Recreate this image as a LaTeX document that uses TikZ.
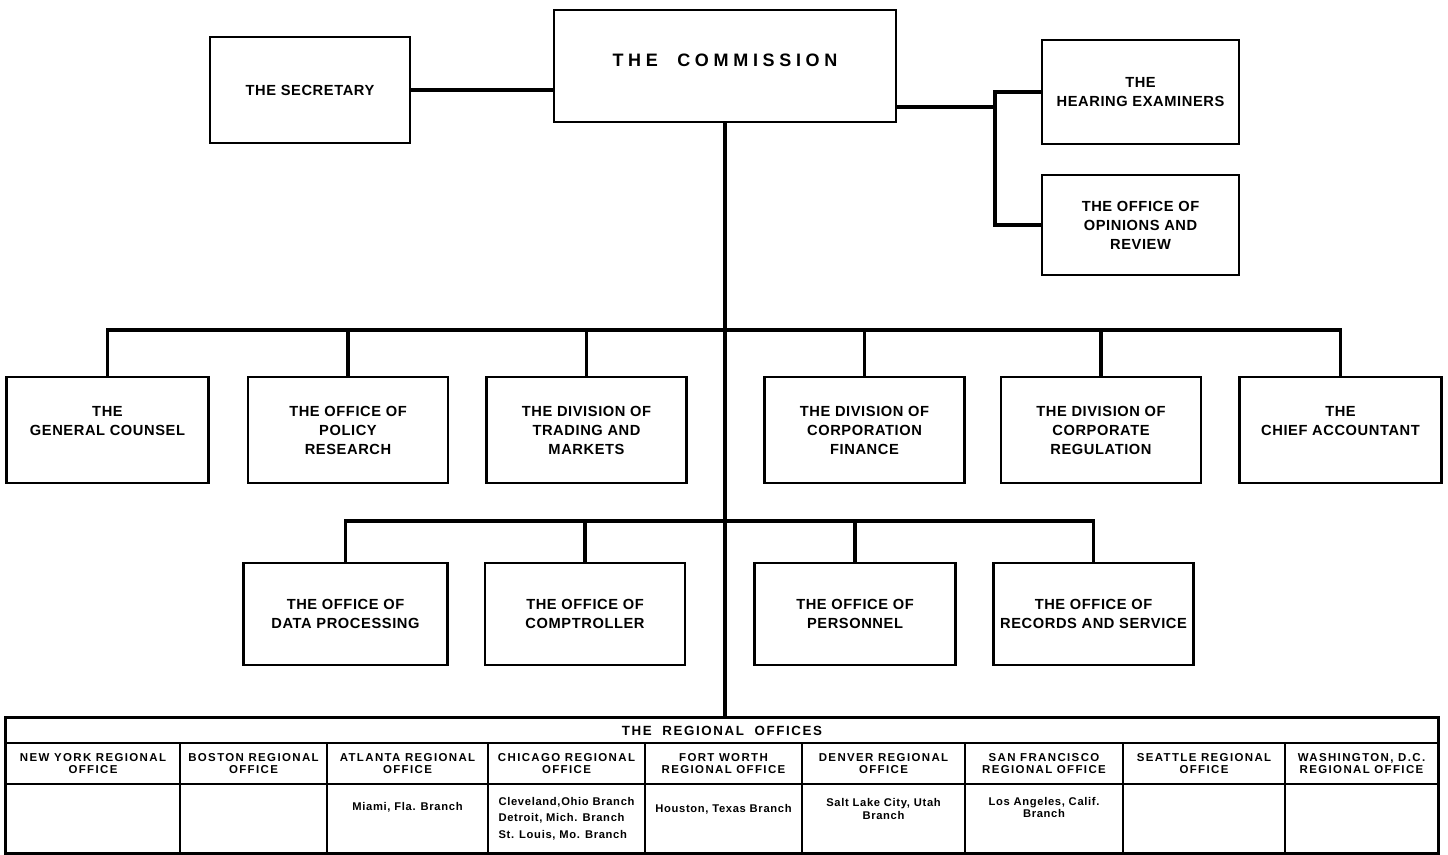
\documentclass[tikz,border=0pt]{standalone}
\usepackage{fontspec}
\usepackage{tikz}
\newfontfamily\boxfont[LetterSpace=4]{Liberation Sans}
\newfontfamily\widefont[LetterSpace=26]{Liberation Sans}
\newfontfamily\headfont[LetterSpace=12]{Liberation Sans}
\newfontfamily\cellfont[LetterSpace=6]{Liberation Sans}

\tikzset{
	unit/.style={draw, line width=2.2pt, align=center, inner sep=1pt, minimum width=150pt, minimum height=79.5pt,
		font=\boxfont\bfseries\fontsize{11}{14.25}\selectfont},
	link/.style={line width=2.8pt},
	sublink/.style={line width=2.3pt},
	tabtitle/.style={draw, line width=1.5pt, minimum width=1074pt, minimum height=18.75pt, inner sep=0pt,
		font=\headfont\bfseries\fontsize{10}{10}\selectfont},
	headcell/.style={draw, line width=1.5pt, align=center, minimum height=30.75pt, inner sep=0pt,
		font=\headfont\bfseries\fontsize{8.6}{8.4}\selectfont},
	branchcell/.style={draw, line width=1.5pt, align=center, minimum height=51.75pt, inner sep=0pt,
		font=\cellfont\bfseries\fontsize{8.4}{12.5}\selectfont}
}

\begin{document}
\begin{tikzpicture}[x=0.75pt,y=0.75pt,yscale=-1,xscale=1]
	\useasboundingbox (0,0) rectangle (1448,855);
	
	%Shape: Box top
	\node [unit, minimum width=256.5pt, minimum height=84pt, font=\widefont\bfseries\fontsize{13.5}{16}\selectfont] (comm) at (725,66) {THE~~COMMISSION\\[-8pt]\mbox{}};
	%Shape: Box left
	\node [unit] (sec) at (310,90) {THE SECRETARY};
	%Shape: Box right
	\node [unit, minimum width=147.75pt, minimum height=78pt] (hear) at (1140.5,92) {THE\\HEARING EXAMINERS};
	%Shape: Box right
	\node [unit, minimum width=147.75pt, minimum height=75pt] (opin) at (1140.5,225) {THE OFFICE OF\\OPINIONS AND\\REVIEW};
	
	%Shape: Boxes first row
	\node [unit, minimum width=152pt] (gc) at (107.5,430) {THE\\GENERAL COUNSEL\\\mbox{}};
	\node [unit] (pol) at (348,430) {THE OFFICE OF\\POLICY\\RESEARCH};
	\node [unit] (tm) at (586.5,430) {THE DIVISION OF\\TRADING AND\\MARKETS};
	\node [unit] (cf) at (864.5,430) {THE DIVISION OF\\CORPORATION\\FINANCE};
	\node [unit] (cr) at (1101,430) {THE DIVISION OF\\CORPORATE\\REGULATION};
	\node [unit, minimum width=152pt] (ca) at (1340.5,430) {THE\\CHIEF ACCOUNTANT\\\mbox{}};
	
	%Shape: Boxes second row
	\node [unit, minimum width=153pt, minimum height=76.5pt] (dp) at (345.5,614) {THE OFFICE OF\\DATA PROCESSING};
	\node [unit, minimum height=76.5pt] (comp) at (585,614) {THE OFFICE OF\\COMPTROLLER};
	\node [unit, minimum width=151pt, minimum height=76.5pt] (pers) at (855,614) {THE OFFICE OF\\PERSONNEL};
	\node [unit, minimum height=76.5pt] (rec) at (1093.5,614) {THE OFFICE OF\\RECORDS AND SERVICE};
	
	%Shape: Table of regional offices
	\node [tabtitle] (regt) at (722,730.5) {THE~~REGIONAL~~OFFICES};
	% Header cells
	\node [headcell, minimum width=130.5pt] (hny) at (93,763.5) {NEW YORK REGIONAL\\OFFICE};
	\node [headcell, minimum width=110.25pt] (hbo) at (253.5,763.5) {BOSTON REGIONAL\\OFFICE};
	\node [headcell, minimum width=120.75pt] (hat) at (407.5,763.5) {ATLANTA REGIONAL\\OFFICE};
	\node [headcell, minimum width=117.75pt] (hch) at (566.5,763.5) {CHICAGO REGIONAL\\OFFICE};
	\node [headcell, minimum width=117.75pt] (hfw) at (723.5,763.5) {FORT WORTH\\REGIONAL OFFICE};
	\node [headcell, minimum width=122.25pt] (hde) at (883.5,763.5) {DENVER REGIONAL\\OFFICE};
	\node [headcell, minimum width=118.5pt] (hsf) at (1044,763.5) {SAN FRANCISCO\\REGIONAL OFFICE};
	\node [headcell, minimum width=121.5pt] (hse) at (1204,763.5) {SEATTLE REGIONAL\\OFFICE};
	\node [headcell, minimum width=114.75pt] (hwa) at (1361.5,763.5) {WASHINGTON, D.C.\\REGIONAL OFFICE};
	% Branch cells
	\node [branchcell, minimum width=130.5pt] (bny) at (93,818.5) {};
	\node [branchcell, minimum width=110.25pt] (bbo) at (253.5,818.5) {};
	\node [branchcell, minimum width=120.75pt] (bat) at (407.5,818.5) {Miami, Fla. Branch\\[5pt]\mbox{}};
	\node [branchcell, minimum width=117.75pt, align=left] (bch) at (566.5,818.5) {Cleveland,Ohio Branch\\Detroit, Mich. Branch\\St. Louis, Mo. Branch};
	\node [branchcell, minimum width=117.75pt] (bfw) at (723.5,818.5) {Houston, Texas Branch\\[2pt]\mbox{}};
	\node [branchcell, minimum width=122.25pt] (bde) at (883.5,818.5) {Salt Lake City, Utah\\[-3pt]Branch\\[2pt]\mbox{}};
	\node [branchcell, minimum width=118.5pt] (bsf) at (1044,818.5) {Los Angeles, Calif.\\[-3pt]Branch\\[4pt]\mbox{}};
	\node [branchcell, minimum width=121.5pt] (bse) at (1204,818.5) {};
	\node [branchcell, minimum width=114.75pt] (bwa) at (1361.5,818.5) {};
	% Table frame
	\draw [line width=2.2pt] (regt.north west) rectangle (bwa.south east);
	
	% Connector secretary
	\draw [link] (sec.east) -- (sec.east -| comm.west);
	% Connector hearing and opinions
	\coordinate (rj) at (995,107);
	\draw [link] (comm.east |- rj) -- (rj);
	\draw [link] (hear.west) -| (rj) |- (opin.west);
	% Connector trunk
	\draw [link] (comm.south) -- (comm.south |- regt.north);
	% Connector first row
	\coordinate (busA) at (725,330);
	\draw [link] (gc.north) |- (ca.north |- busA) -- (ca.north);
	\draw [link] (pol.north) -- (pol.north |- busA);
	\draw [link] (tm.north) -- (tm.north |- busA);
	\draw [link] (cf.north) -- (cf.north |- busA);
	\draw [link] (cr.north) -- (cr.north |- busA);
	% Connector second row
	\coordinate (busB) at (725,521);
	\draw [sublink] (dp.north) |- (rec.north |- busB) -- (rec.north);
	\draw [sublink] (comp.north) -- (comp.north |- busB);
	\draw [sublink] (pers.north) -- (pers.north |- busB);
	
\end{tikzpicture}
\end{document}
